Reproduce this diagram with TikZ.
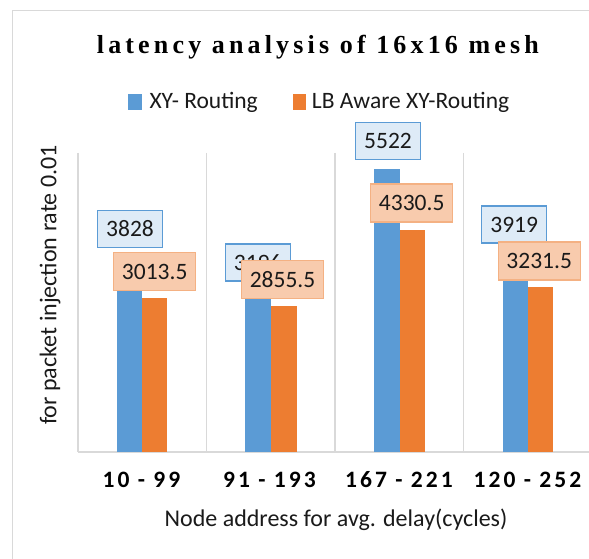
\documentclass[tikz,border=0pt]{standalone}
\usepackage{fontspec}
\setmainfont{Carlito}
\newfontfamily\titlefont[LetterSpace=16]{Liberation Serif}
\newfontfamily\catfont[LetterSpace=13]{Carlito}
\definecolor{xyblue}{HTML}{5B9BD5}
\definecolor{lborange}{HTML}{ED7D31}
\definecolor{lblblue}{HTML}{DEEBF7}
\definecolor{lblorange}{HTML}{F8CBAD}
\definecolor{lblorangeedge}{HTML}{F4B183}
\definecolor{gridgray}{HTML}{D9D9D9}
\definecolor{txt}{HTML}{1A1A1A}
\tikzset{
  gridline/.style={draw=gridgray, line width=1.2pt},
  bluebar/.style={fill=xyblue},
  orangebar/.style={fill=lborange},
  bluelbl/.style={fill=lblblue, draw=xyblue, line width=1.2pt, minimum width=65pt, minimum height=37pt, inner sep=0pt, text=txt, font=\fontsize{23.5}{23.5}\selectfont},
  orangelbl/.style={fill=lblorange, draw=lblorangeedge, line width=1.2pt, minimum width=82pt, minimum height=38pt, inner sep=0pt, text=txt, font=\fontsize{23.5}{23.5}\selectfont},
  legtext/.style={inner sep=0pt, anchor=base west, text=txt, font=\fontsize{23.5}{24}\selectfont},
  catlbl/.style={inner sep=0pt, anchor=base, text=black, font=\catfont\bfseries\fontsize{23.5}{24}\selectfont},
  axtitle/.style={inner sep=0pt, text=txt, font=\fontsize{24}{24}\selectfont}
}
\begin{document}
\begin{tikzpicture}[x=1pt,y=-1pt]
\useasboundingbox (0,0) rectangle (589,559);
\clip (0,0) rectangle (589,559);
\fill[white] (0,0) rectangle (589,559);
% outer chart frame
\draw[gridgray, line width=1pt] (12.5,10.5) rectangle (640,620);
% title
\node[inner sep=0pt, anchor=base west, font=\titlefont\bfseries\fontsize{26}{30}\selectfont] (title) at (96.7,54) {latency analysis of 16x16 mesh};
% legend
\fill[xyblue] (128.3,94.3) rectangle (141.7,110);
\node[legtext] (leg1) at (149.3,108.3) {XY- Routing};
\fill[lborange] (292.7,94.3) rectangle (306,110);
\node[legtext] (leg2) at (311.7,108.3) {LB Aware XY-Routing};
% plot grid
\foreach \gx in {78,206.3,335,463.3} \draw[gridline] (\gx,153) -- (\gx,452);
\draw[gridline] (78,452) -- (640,452);
% bars
\fill[bluebar] (117.2,452) rectangle (142,256.0);
\fill[orangebar] (142,452) rectangle (167.2,297.7);
\fill[bluebar] (245.2,452) rectangle (270.7,288.4);
\fill[orangebar] (270.7,452) rectangle (296.5,305.8);
\fill[bluebar] (374.2,452) rectangle (400,169.3);
\fill[orangebar] (400,452) rectangle (424.5,230.3);
\fill[bluebar] (503.2,452) rectangle (527.5,251.3);
\fill[orangebar] (527.5,452) rectangle (552.7,286.5);
% data labels
\node[bluelbl] (b1) at (130,228.7) {3828};
\node[bluelbl] (b2) at (257.7,262.5) {3196};
\node[bluelbl] (b3) at (388,141.3) {5522};
\node[bluelbl] (b4) at (514.2,224.5) {3919};
\node[orangelbl] (o1) at (154.7,271.7) {3013.5};
\node[orangelbl] (o2) at (282.5,279.2) {2855.5};
\node[orangelbl] (o3) at (411.7,203) {4330.5};
\node[orangelbl] (o4) at (539.2,260.9) {3231.5};
% category labels
\node[catlbl] (c1) at (141.5,487) {10 - 99};
\node[catlbl] (c2) at (269.5,487) {91 - 193};
\node[catlbl] (c3) at (399,487) {167 - 221};
\node[catlbl] (c4) at (527.5,487) {120 - 252};
% axis titles
\node[axtitle, anchor=base] (xt) at (336,526) {Node address for avg. delay(cycles)};
\node[axtitle, rotate=90] (yt) at (50,285) {for packet injection rate 0.01};
\end{tikzpicture}
\end{document}
